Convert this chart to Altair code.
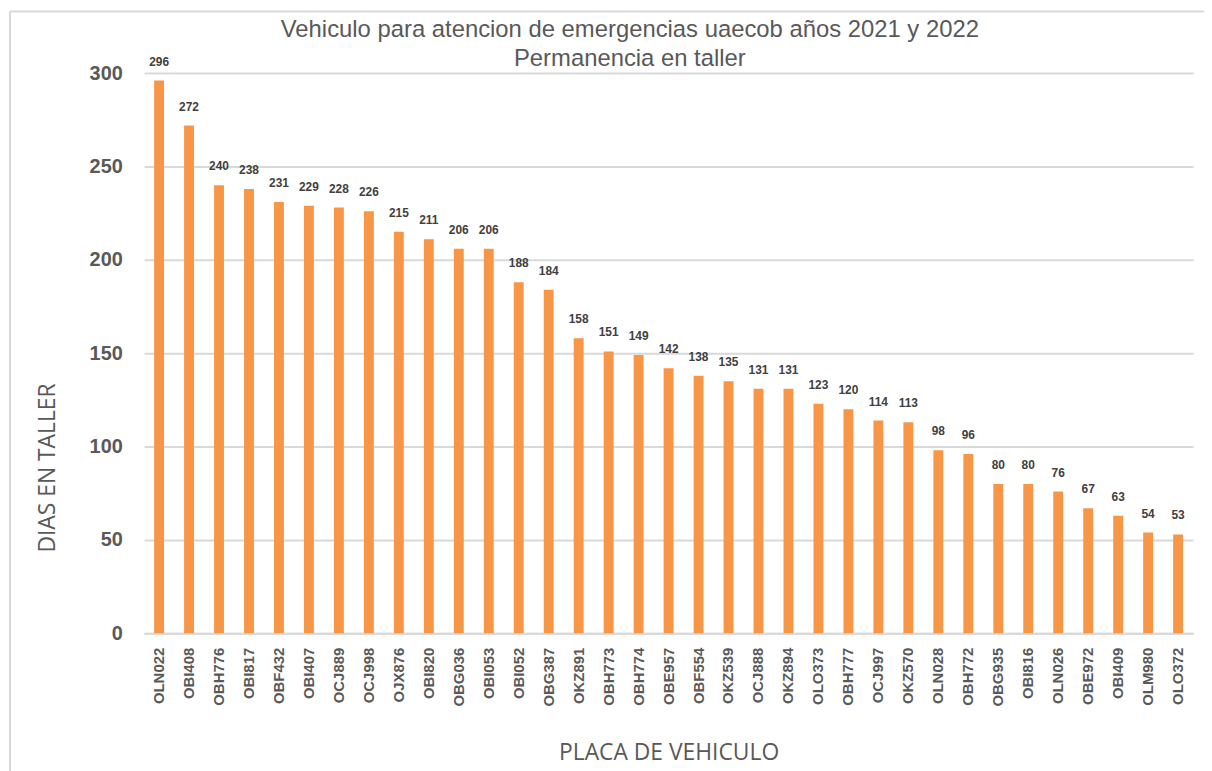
import altair as alt
import pandas as pd

placas = ["OLN022", "OBI408", "OBH776", "OBI817", "OBF432", "OBI407", "OCJ889", "OCJ998",
          "OJX876", "OBI820", "OBG036", "OBI053", "OBI052", "OBG387", "OKZ891", "OBH773",
          "OBH774", "OBE957", "OBF554", "OKZ539", "OCJ888", "OKZ894", "OLO373", "OBH777",
          "OCJ997", "OKZ570", "OLN028", "OBH772", "OBG935", "OBI816", "OLN026", "OBE972",
          "OBI409", "OLM980", "OLO372"]
dias = [296, 272, 240, 238, 231, 229, 228, 226, 215, 211, 206, 206, 188, 184, 158, 151,
        149, 142, 138, 135, 131, 131, 123, 120, 114, 113, 98, 96, 80, 80, 76, 67, 63, 54, 53]
titulo = ["Vehiculo para atencion de emergencias uaecob años 2021 y 2022",
          "Permanencia en taller"]

df = pd.DataFrame({"placa": placas, "dias": dias})
one = pd.DataFrame({"k": [0]})

GRAY = "#595959"
FONT = "Liberation Sans"

x = alt.X("placa:N", sort=placas, title="PLACA DE VEHICULO",
          scale=alt.Scale(paddingInner=0.67, paddingOuter=0.335),
          axis=alt.Axis(labelAngle=-90, labelFontSize=15, labelFontWeight="bold",
                        labelColor=GRAY, labelFont=FONT, labelPadding=14, ticks=False,
                        domain=True, domainColor="#D9D9D9", domainWidth=2,
                        titleFont="Open Sans", titleFontSize=23, titleFontWeight="normal",
                        titleColor=GRAY, titlePadding=36))
y = alt.Y("dias:Q", title="DIAS EN TALLER",
          scale=alt.Scale(domain=[0, 300]),
          axis=alt.Axis(values=[0, 50, 100, 150, 200, 250, 300], labelFontSize=20,
                        labelFontWeight="bold", labelColor=GRAY, labelFont=FONT,
                        labelPadding=22, ticks=False, domain=False,
                        grid=True, gridColor="#D9D9D9", gridWidth=2,
                        titleFont="Open Sans", titleFontSize=23, titleFontWeight="normal",
                        titleColor=GRAY, titleX=-90, titleY=397, titleAlign="center",
                        titleBaseline="alphabetic"))

bars = alt.Chart(df).mark_bar(color="#F79646").encode(x=x, y=y)
labels = alt.Chart(df).mark_text(fontSize=12, fontWeight="bold", color="#404040",
                                 font=FONT, baseline="bottom", dy=-12).encode(
    x=alt.X("placa:N", sort=placas), y="dias:Q", text="dias:Q")

frame_left = alt.Chart(one).mark_rule(color="#D9D9D9", strokeWidth=2).encode(
    x=alt.value(-135), y=alt.value(-62), y2=alt.value(800))
frame_top = alt.Chart(one).mark_rule(color="#D9D9D9", strokeWidth=2).encode(
    x=alt.value(-135), x2=alt.value(1200), y=alt.value(-62))

title1 = alt.Chart(one).mark_text(fontSize=24, font=FONT, color=GRAY, align="center",
                                  baseline="alphabetic").encode(
    x=alt.value(489), y=alt.value(-36), text=alt.value(titulo[0]))
title2 = alt.Chart(one).mark_text(fontSize=24, font=FONT, color=GRAY, align="center",
                                  baseline="alphabetic").encode(
    x=alt.value(489), y=alt.value(-7), text=alt.value(titulo[1]))

chart = alt.layer(frame_left, frame_top, bars, labels, title1, title2).properties(
    width=1056, height=564,
    autosize=alt.AutoSizeParams(type="none"),
    padding={"left": 137, "top": 63, "right": 11, "bottom": 136},
).configure_view(stroke=None)

chart.save("out.html", embed_options={"renderer": "svg", "actions": False})
